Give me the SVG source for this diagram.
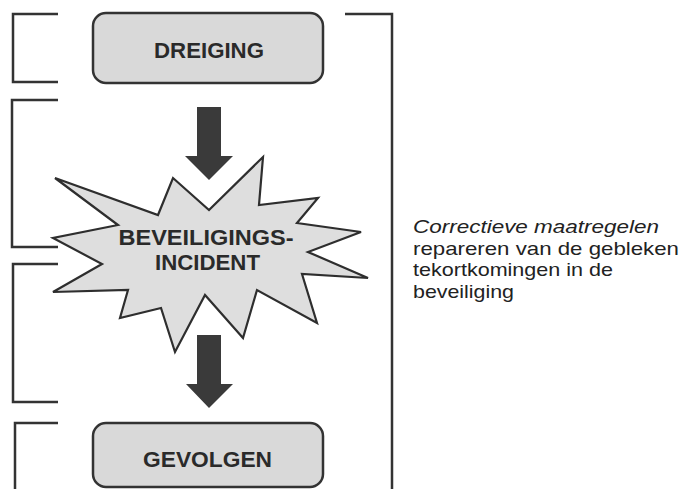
<svg xmlns="http://www.w3.org/2000/svg" width="687" height="489" viewBox="0 0 687 489">
<style>
.box{fill:#d9d9d9;stroke:#333;stroke-width:2.5}
.star{fill:#dedede;stroke:#2e2e2e;stroke-width:2.2;stroke-linejoin:miter}
.lbl{font-family:"Liberation Sans",Arial,sans-serif;font-weight:bold;font-size:22px;fill:#2a2a2a;text-anchor:middle}
.brk{fill:none;stroke:#333;stroke-width:2.5}
.arr{fill:#3a3a3a}
.note{font-family:"Liberation Sans",Arial,sans-serif;font-size:19px;fill:#222}
</style>
<rect width="687" height="489" fill="#fff"/>
<g id="brackets">
<path class="brk" d="M58,14 H13 V82 H58"/>
<path class="brk" d="M58,100 H12 V247 H58"/>
<path class="brk" d="M58,264 H13 V402 H58"/>
<path class="brk" d="M58,423 H15 V489"/>
<path class="brk" d="M345,14 H392 V489"/>
</g>
<g id="connectors">
<polygon class="arr" points="197,107 221,107 221,156 233,156 209,180 185,156 197,156"/>
<polygon class="arr" points="197,335 221,335 221,384 233,384 209,408 186,384 197,384"/>
</g>
<g id="dreiging">
<rect class="box" x="93" y="13" width="230" height="70" rx="13"/>
<text class="lbl" x="209" y="58" textLength="110" lengthAdjust="spacingAndGlyphs">DREIGING</text>
</g>
<g id="incident">
<polygon class="star" points="55,178 158,215 173,178 209,210 263,157 259,205 318,198 297,223 361,232 308,252 368,278 302,274 317,323 257,290 243,338 205,295 175,352 161,308 120,318 128,290 53,292 102,264 53,238 118,225"/>
<text class="lbl" x="206" y="245" textLength="175" lengthAdjust="spacingAndGlyphs">BEVEILIGINGS-</text>
<text class="lbl" x="207.5" y="270" textLength="105" lengthAdjust="spacingAndGlyphs">INCIDENT</text>
</g>
<g id="gevolgen">
<rect class="box" x="93" y="423" width="230" height="64" rx="13"/>
<text class="lbl" x="207.5" y="467" textLength="129" lengthAdjust="spacingAndGlyphs">GEVOLGEN</text>
</g>
<g id="note">
<text class="note" x="413" y="233" font-style="italic" textLength="246" lengthAdjust="spacingAndGlyphs">Correctieve maatregelen</text>
<text class="note" x="413" y="254.5" textLength="266" lengthAdjust="spacingAndGlyphs">repareren van de gebleken</text>
<text class="note" x="413" y="276" textLength="200" lengthAdjust="spacingAndGlyphs">tekortkomingen in de</text>
<text class="note" x="413" y="297.5" textLength="101" lengthAdjust="spacingAndGlyphs">beveiliging</text>
</g>
</svg>
